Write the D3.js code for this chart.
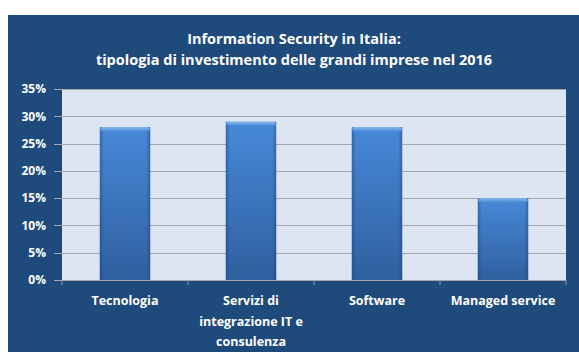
<!DOCTYPE html>
<html>
<head>
<meta charset="utf-8">
<script src="https://cdn.jsdelivr.net/npm/d3@7"></script>
<style>
  html, body { margin: 0; padding: 0; background: #ffffff; }
  svg { display: block; }
  text { font-family: "Open Sans", Lato, "Liberation Sans", sans-serif; font-weight: bold; fill: #ffffff; }
</style>
</head>
<body>
<script>
// Chart data
const categories = [
  ["Tecnologia"],
  ["Servizi di", "integrazione IT e", "consulenza"],
  ["Software"],
  ["Managed service"]
];
const values = [28, 29, 28, 15];
const yTicks = [0, 5, 10, 15, 20, 25, 30, 35];
const titleLines = [
  "Information Security in Italia:",
  "tipologia di investimento delle grandi imprese nel 2016"
];

const W = 579, H = 352;
const panel = { x: 8, y: 15, w: W - 8, h: H - 15 };
const plot = { left: 62, right: 566, top: 89, bottom: 280 };

const svg = d3.select("body").append("svg")
  .attr("width", W).attr("height", H);

const defs = svg.append("defs");
const gBar = defs.append("linearGradient").attr("id", "barFill")
  .attr("x1", 0).attr("y1", 0).attr("x2", 0).attr("y2", 1);
gBar.append("stop").attr("offset", "0%").attr("stop-color", "#4789d8");
gBar.append("stop").attr("offset", "100%").attr("stop-color", "#2f609f");

const gSide = defs.append("linearGradient").attr("id", "barSide")
  .attr("x1", 0).attr("y1", 0).attr("x2", 1).attr("y2", 0);
gSide.append("stop").attr("offset", "0%").attr("stop-color", "#1b3f70").attr("stop-opacity", 0.45);
gSide.append("stop").attr("offset", "8%").attr("stop-color", "#1b3f70").attr("stop-opacity", 0);
gSide.append("stop").attr("offset", "92%").attr("stop-color", "#1b3f70").attr("stop-opacity", 0);
gSide.append("stop").attr("offset", "100%").attr("stop-color", "#1b3f70").attr("stop-opacity", 0.45);

const gCap = defs.append("linearGradient").attr("id", "barCap")
  .attr("x1", 0).attr("y1", 0).attr("x2", 0).attr("y2", 1);
gCap.append("stop").attr("offset", "0%").attr("stop-color", "#8cbcf0");
gCap.append("stop").attr("offset", "100%").attr("stop-color", "#4a8bd9");

// Dark panel
svg.append("rect")
  .attr("x", panel.x).attr("y", panel.y)
  .attr("width", panel.w).attr("height", panel.h)
  .attr("fill", "#1f4a7c");

// Title
svg.append("g").selectAll("text").data(titleLines).join("text")
  .attr("x", 294)
  .attr("y", (d, i) => 44 + i * 20.5)
  .attr("text-anchor", "middle")
  .attr("font-size", 14.5)
  .text(d => d);

// Scales
const x = d3.scaleBand()
  .domain(d3.range(categories.length))
  .range([plot.left, plot.right])
  .paddingInner(0.6)
  .paddingOuter(0.3);

const y = d3.scaleLinear()
  .domain([0, 35])
  .range([plot.bottom, plot.top]);

// Plot area background
svg.append("rect")
  .attr("x", plot.left).attr("y", plot.top)
  .attr("width", plot.right - plot.left)
  .attr("height", plot.bottom - plot.top)
  .attr("fill", "#dce5f1");

// Gridlines
svg.append("g").selectAll("line").data(yTicks).join("line")
  .attr("x1", plot.left - 8).attr("x2", plot.right)
  .attr("y1", d => Math.round(y(d)) + 0.5)
  .attr("y2", d => Math.round(y(d)) + 0.5)
  .attr("stroke", "#a3a7ad")
  .attr("stroke-width", 1.2);

// Y axis labels
const yAxis = d3.axisLeft(y)
  .tickValues(yTicks)
  .tickFormat(d => d + "%")
  .tickSize(0)
  .tickPadding(16);
const yg = svg.append("g")
  .attr("transform", `translate(${plot.left},0)`)
  .call(yAxis);
yg.select(".domain").remove();
yg.selectAll("text")
  .attr("font-size", 12)
  .attr("fill", "#ffffff")
  .style("font-family", "'Open Sans', Lato, sans-serif")
  .style("font-weight", "bold");

// X axis tick marks at category boundaries
const bounds = d3.range(categories.length + 1).map(i => plot.left + i * x.step());
svg.append("g").selectAll("line").data(bounds).join("line")
  .attr("x1", d => d).attr("x2", d => d)
  .attr("y1", plot.bottom).attr("y2", plot.bottom + 5)
  .attr("stroke", "#8d9aab")
  .attr("stroke-width", 1);

// Bars
const bars = svg.append("g").selectAll("g").data(values).join("g")
  .attr("transform", (d, i) => `translate(${x(i)},0)`);

bars.append("rect")
  .attr("x", 0).attr("y", d => y(d))
  .attr("width", x.bandwidth())
  .attr("height", d => y(0) - y(d))
  .attr("fill", "url(#barFill)");

bars.append("rect")
  .attr("x", 0).attr("y", d => y(d))
  .attr("width", x.bandwidth())
  .attr("height", d => y(0) - y(d))
  .attr("fill", "url(#barSide)");

bars.append("rect")
  .attr("x", 0.5).attr("y", d => y(d))
  .attr("width", x.bandwidth() - 1)
  .attr("height", 4)
  .attr("rx", 2)
  .attr("fill", "url(#barCap)");

// Category labels
const labels = svg.append("g").selectAll("text").data(categories).join("text")
  .attr("x", (d, i) => x(i) + x.bandwidth() / 2)
  .attr("y", 305)
  .attr("text-anchor", "middle")
  .attr("font-size", 12.5);
labels.selectAll("tspan").data(d => d).join("tspan")
  .attr("x", function () { return this.parentNode.getAttribute("x"); })
  .attr("dy", (d, i) => i === 0 ? 0 : 20.5)
  .text(d => d);
</script>
</body>
</html>
